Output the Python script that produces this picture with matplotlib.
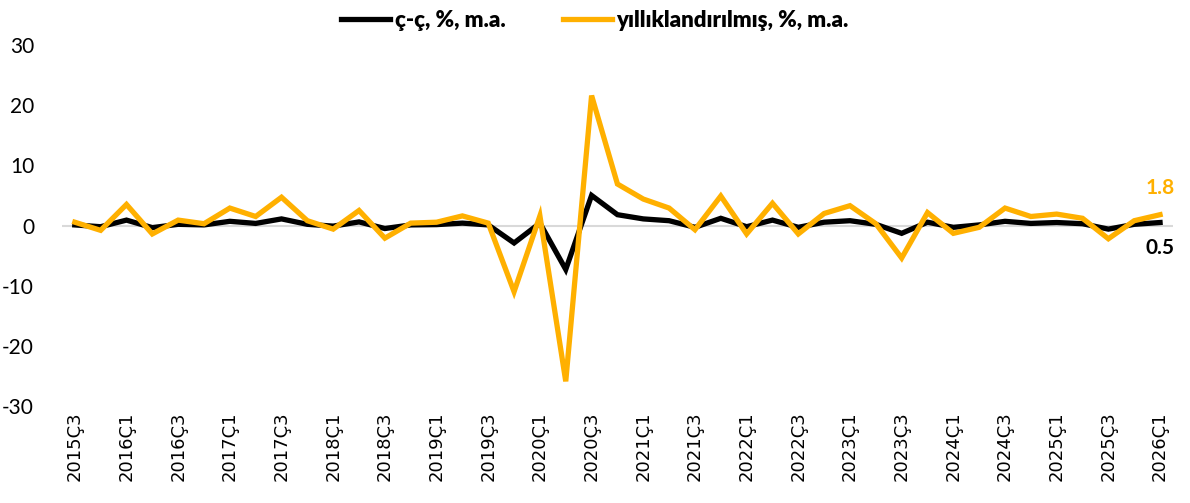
import numpy as np
import matplotlib.pyplot as plt

plt.rcParams["axes.unicode_minus"] = False

# quarters 2015Q3 .. 2026Q1
years = list(range(2015, 2027))
quarters = []
for y in years:
    for q in range(1, 5):
        if (y == 2015 and q < 3) or (y == 2026 and q > 1):
            continue
        quarters.append(f"{y}Ç{q}")

# ç-ç, %, m.a.
qoq = [0.1, -0.2, 0.9, -0.35, 0.2, 0.1, 0.7, 0.35, 1.1, 0.2,
       -0.1, 0.6, -0.5, 0.1, 0.15, 0.4, 0.1, -2.9, 0.4, -7.3,
       5.0, 1.8, 1.1, 0.8, -0.3, 1.2, -0.2, 0.9, -0.3, 0.55,
       0.8, 0.2, -1.3, 0.55, -0.3, 0.1, 0.7, 0.35, 0.5, 0.3,
       -0.6, 0.2, 0.5]
# yıllıklandırılmış, %, m.a.
ann = [0.55, -0.8, 3.5, -1.4, 0.9, 0.3, 2.9, 1.5, 4.7, 0.8,
       -0.6, 2.5, -2.1, 0.4, 0.55, 1.6, 0.4, -11.0, 1.6, -25.9,
       21.6, 6.9, 4.4, 2.9, -0.7, 4.9, -1.4, 3.7, -1.4, 2.0,
       3.3, 0.3, -5.4, 2.15, -1.3, -0.3, 2.9, 1.5, 1.9, 1.2,
       -2.2, 0.8, 1.8]

black = "#000000"
gold = "#FFB000"
x = np.arange(len(quarters))

fig = plt.figure(figsize=(11.9, 5.03), dpi=100)
ax = fig.add_axes([0.052, 0.1928, 0.9337, 0.7177])

ax.axhline(0, color="#d9d9d9", lw=1.5, zorder=1)
ax.plot(x, qoq, color=black, lw=3.8, label="ç-ç, %, m.a.", zorder=3, solid_joinstyle="miter")
ax.plot(x, ann, color=gold, lw=3.8, label="yıllıklandırılmış, %, m.a.", zorder=4, solid_joinstyle="miter")

ax.set_xlim(-0.5, len(x) - 0.5)
ax.set_ylim(-30, 30)
ax.set_yticks(range(-30, 31, 10))
ax.set_xticks(x[::2])
ax.set_xticklabels(quarters[::2], rotation=90, fontsize=13, family="DejaVu Sans")
for lab in ax.get_yticklabels():
    lab.set_family("Lato")
    lab.set_fontsize(15)
ax.tick_params(length=0, pad=4)
ax.tick_params(axis="y", pad=20)
for s in ax.spines.values():
    s.set_visible(False)

ax.text(x[-1], ann[-1] + 2.8, f"{ann[-1]:.1f}", color=gold, fontsize=15,
        fontweight="bold", family="Lato", ha="center", va="bottom")
ax.text(x[-1], qoq[-1] - 2.5, f"{qoq[-1]:.1f}", color=black, fontsize=15,
        fontweight="bold", family="Lato", ha="center", va="top")

leg = fig.legend(loc="upper center", bbox_to_anchor=(0.5, 1.02), ncol=2, frameon=False,
                 prop={"family": "Lato", "weight": "heavy", "size": 16},
                 handlelength=2.2, columnspacing=2.6, handletextpad=0.2)

fig.savefig("out.png", dpi=100)
